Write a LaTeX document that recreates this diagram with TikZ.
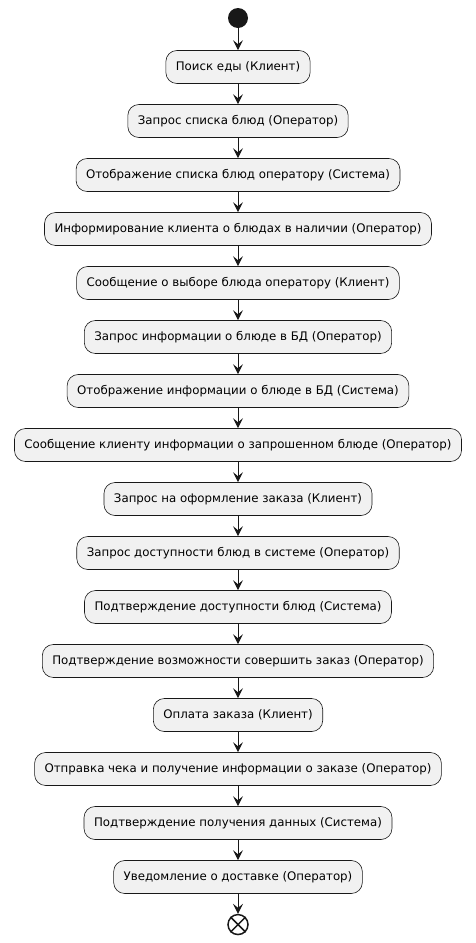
\documentclass[tikz,border=0pt]{standalone}
\usepackage{fontspec}
\setmainfont{DejaVu Sans}
\usetikzlibrary{positioning,arrows.meta}
\definecolor{actfill}{HTML}{F1F1F1}
\definecolor{actline}{HTML}{181818}

\begin{document}
\begin{tikzpicture}[x=1pt,y=1pt, node distance=20.4pt,
  act/.style={draw=actline,fill=actfill,rounded corners=11pt,minimum height=33pt,inner xsep=10pt,font=\fontsize{11.8}{14}\selectfont,line width=0.6pt},
  flow/.style={-{Stealth[length=10pt,width=10pt,inset=4pt]},line width=1pt,draw=actline}]
  \useasboundingbox (0,0) rectangle (475,-943);
  \node[circle,fill=actline,minimum size=20pt,inner sep=0pt] (start) at (238,-18) {};
  \node[act,below=22pt of start] (a1) {Поиск еды (Клиент)};
  \node[act,below=of a1] (a2) {Запрос списка блюд (Оператор)};
  \node[act,below=of a2] (a3) {Отображение списка блюд оператору (Система)};
  \node[act,below=of a3] (a4) {Информирование клиента о блюдах в наличии (Оператор)};
  \node[act,below=of a4] (a5) {Сообщение о выборе блюда оператору (Клиент)};
  \node[act,below=of a5] (a6) {Запрос информации о блюде в БД (Оператор)};
  \node[act,below=of a6] (a7) {Отображение информации о блюде в БД (Система)};
  \node[act,below=of a7] (a8) {Сообщение клиенту информации о запрошенном блюде (Оператор)};
  \node[act,below=of a8] (a9) {Запрос на оформление заказа (Клиент)};
  \node[act,below=of a9] (a10) {Запрос доступности блюд в системе (Оператор)};
  \node[act,below=of a10] (a11) {Подтверждение доступности блюд (Система)};
  \node[act,below=of a11] (a12) {Подтверждение возможности совершить заказ (Оператор)};
  \node[act,below=of a12] (a13) {Оплата заказа (Клиент)};
  \node[act,below=of a13] (a14) {Отправка чека и получение информации о заказе (Оператор)};
  \node[act,below=of a14] (a15) {Подтверждение получения данных (Система)};
  \node[act,below=of a15] (a16) {Уведомление о доставке (Оператор)};
  \node[circle,draw=actline,line width=1.5pt,minimum size=20pt,inner sep=0pt,below=20pt of a16] (stop) {};
  \draw[actline,line width=1.5pt] (stop.45) -- (stop.225) (stop.135) -- (stop.315);
  % connectors
  \draw[flow] (start) -- (a1);
  \draw[flow] (a1) -- (a2);
  \draw[flow] (a2) -- (a3);
  \draw[flow] (a3) -- (a4);
  \draw[flow] (a4) -- (a5);
  \draw[flow] (a5) -- (a6);
  \draw[flow] (a6) -- (a7);
  \draw[flow] (a7) -- (a8);
  \draw[flow] (a8) -- (a9);
  \draw[flow] (a9) -- (a10);
  \draw[flow] (a10) -- (a11);
  \draw[flow] (a11) -- (a12);
  \draw[flow] (a12) -- (a13);
  \draw[flow] (a13) -- (a14);
  \draw[flow] (a14) -- (a15);
  \draw[flow] (a15) -- (a16);
  \draw[flow] (a16) -- (stop);
\end{tikzpicture}
\end{document}
